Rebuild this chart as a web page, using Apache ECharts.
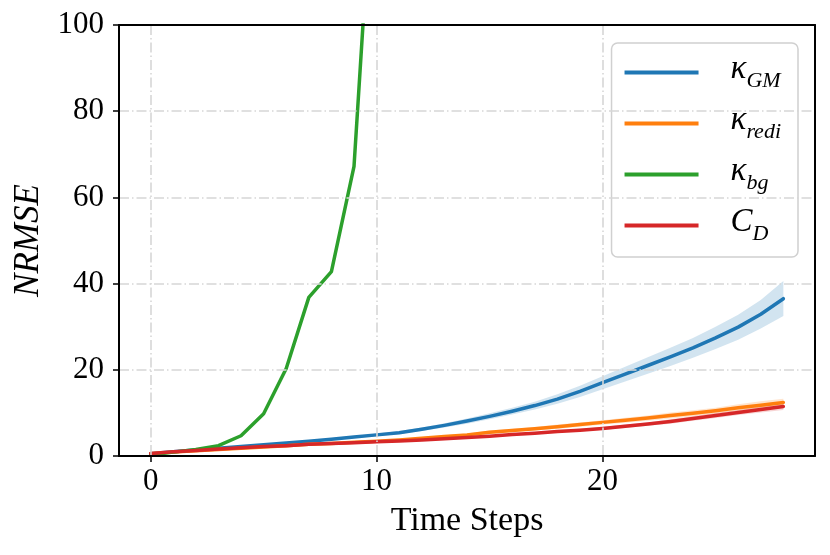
<!DOCTYPE html>
<html>
<head>
<meta charset="utf-8">
<script src="https://cdn.jsdelivr.net/npm/echarts@6/dist/echarts.min.js"></script>
<style>html,body{margin:0;padding:0;background:#fff}#c{width:830px;height:555px}</style>
</head>
<body>
<div id="c"></div>
<script>
const steps = [0,1,2,3,4,5,6,7,8,9,10,11,12,13,14,15,16,17,18,19,20,21,22,23,24,25,26,27,28];
const xTicks = [0,10,20];
const yTicks = [0,20,40,60,80,100];

const kGM   = [0.5,1.0,1.4,1.8,2.2,2.6,3.0,3.4,3.9,4.4,4.9,5.4,6.2,7.1,8.1,9.2,10.4,11.7,13.2,15.0,17.0,19.0,21.0,23.0,25.1,27.4,29.9,32.9,36.5];
const kGMLo = [0.4,0.9,1.3,1.7,2.1,2.5,2.9,3.3,3.7,4.2,4.6,5.1,5.8,6.6,7.5,8.5,9.6,10.8,12.1,13.7,15.5,17.3,19.1,20.9,22.8,24.8,27.0,29.6,32.5];
const kGMHi = [0.6,1.1,1.5,1.9,2.3,2.7,3.1,3.6,4.1,4.6,5.2,5.8,6.6,7.6,8.7,9.9,11.2,12.6,14.3,16.3,18.5,20.7,22.9,25.1,27.4,30.0,32.8,36.2,40.6];

const kRedi   = [0.5,0.9,1.2,1.5,1.8,2.1,2.4,2.7,2.9,3.2,3.4,3.7,4.1,4.5,4.9,5.5,5.9,6.3,6.8,7.3,7.8,8.3,8.8,9.4,9.9,10.5,11.2,11.8,12.4];
const kRediLo = [0.4,0.8,1.1,1.4,1.7,2.0,2.3,2.5,2.7,3.0,3.2,3.5,3.8,4.2,4.6,5.1,5.5,5.9,6.3,6.8,7.3,7.7,8.2,8.7,9.2,9.8,10.4,10.9,11.5];
const kRediHi = [0.6,1.0,1.3,1.6,1.9,2.2,2.5,2.9,3.1,3.4,3.6,3.9,4.4,4.8,5.2,5.9,6.3,6.7,7.3,7.8,8.3,8.9,9.4,10.1,10.6,11.2,12.0,12.7,13.3];

const bgSteps = [0,1,2,3,4,5,6,7,8,9,10];
const kBg     = [0.2,0.9,1.5,2.4,4.7,9.8,20.3,36.8,42.8,67.2,150];

const cD   = [0.6,1.0,1.3,1.6,1.9,2.2,2.4,2.7,2.9,3.1,3.3,3.5,3.7,4.0,4.3,4.6,5.0,5.3,5.7,6.0,6.4,6.9,7.4,8.0,8.7,9.4,10.1,10.8,11.5];
const cDLo = [0.5,0.9,1.2,1.5,1.8,2.1,2.3,2.6,2.8,3.0,3.2,3.4,3.6,3.9,4.1,4.4,4.8,5.1,5.4,5.7,6.1,6.5,7.0,7.5,8.2,8.8,9.5,10.1,10.7];
const cDHi = [0.7,1.1,1.4,1.7,2.0,2.3,2.5,2.8,3.0,3.2,3.4,3.6,3.8,4.1,4.5,4.8,5.2,5.5,6.0,6.3,6.7,7.3,7.8,8.5,9.2,10.0,10.7,11.5,12.3];

const names = ['κGM','κredi','κbg','CD'];
const legendRich = {'κGM':'{m|κ}{s|GM}','κredi':'{m|κ}{s|redi}','κbg':'{m|κ}{s|bg}','CD':'{m|C}{s|D}'};

const C = {blue:'#1f77b4', orange:'#ff7f0e', green:'#2ca02c', red:'#d62728'};
const FONT = 'Liberation Serif';

function pairs(xs, ys){ return xs.map((x,i)=>[x, ys[i]]); }
function band(id, lo, hi, color){
  const data = steps.map((x,i)=>[x, lo[i], hi[i]]);
  return {name:id, type:'custom', silent:true, z:1, data:data,
    encode:{x:0, y:[1,2]},
    renderItem:function(params, api){
      if (params.dataIndex !== 0) return null;
      const up = data.map(d=>api.coord([d[0], d[2]]));
      const dn = data.map(d=>api.coord([d[0], d[1]])).reverse();
      return {type:'polygon', shape:{points:up.concat(dn)}, style:{fill:color}};
    }
  };
}
function line(name, xs, ys, color, z){
  return {name:name, type:'line', data:pairs(xs, ys), symbol:'none', clip:true,
    lineStyle:{color:color, width:3.5, join:'round', cap:'round'}, itemStyle:{color:color}, z:z};
}

const gridLine = {show:true, lineStyle:{color:'#d6d6d6', width:1.6, type:[10,3,1.5,3]}};
const spine = {show:true, onZero:false, lineStyle:{color:'#000', width:2}};

const option = {
  animation:false,
  backgroundColor:'#fff',
  grid:{left:119, right:15, top:25, bottom:99, outerBoundsMode:'none', containLabel:false},
  xAxis:[{type:'value', min:-1.4, max:29.4, z:10,
    axisLine:spine,
    axisTick:{show:true, length:6, lineStyle:{color:'#000', width:1.5}, customValues:xTicks},
    axisLabel:{customValues:xTicks, color:'#000', fontFamily:FONT, fontSize:31, margin:10},
    splitLine:gridLine,
    name:'Time Steps', nameLocation:'middle', nameGap:48,
    nameTextStyle:{color:'#000', fontFamily:FONT, fontSize:34}
  },{type:'value', min:-1.4, max:29.4, position:'top', z:10,
    axisLine:spine, axisTick:{show:false}, axisLabel:{show:false}, splitLine:{show:false}}],
  yAxis:[{type:'value', min:0, max:100, interval:20, z:10,
    axisLine:spine,
    axisTick:{show:true, length:6, lineStyle:{color:'#000', width:1.5}},
    axisLabel:{color:'#000', fontFamily:FONT, fontSize:31, margin:15},
    splitLine:gridLine,
    name:'NRMSE', nameLocation:'middle', nameGap:72,
    nameTextStyle:{color:'#000', fontFamily:FONT, fontSize:35, fontStyle:'italic'}
  },{type:'value', min:0, max:100, interval:20, position:'right', z:10,
    axisLine:spine, axisTick:{show:false}, axisLabel:{show:false}, splitLine:{show:false}}],
  legend:{data:names, orient:'vertical', right:32, top:43,
    backgroundColor:'#fff', borderColor:'#d0d0d0', borderWidth:1.5, borderRadius:6,
    padding:[10,17,12,13], itemWidth:74, itemHeight:4, icon:'rect', itemGap:12,
    formatter:n=>legendRich[n],
    textStyle:{color:'#000', padding:[0,0,0,27], rich:{
      m:{fontFamily:FONT, fontSize:33, fontStyle:'italic', color:'#000', verticalAlign:'bottom', padding:[0,0,6,0]},
      s:{fontFamily:FONT, fontSize:22, fontStyle:'italic', color:'#000', verticalAlign:'bottom'}
    }}
  },
  series:[
    band('bGM', kGMLo, kGMHi, 'rgba(31,119,180,0.2)'),
    line('κGM', steps, kGM, C.blue, 3),
    band('bRedi', kRediLo, kRediHi, 'rgba(255,127,14,0.2)'),
    line('κredi', steps, kRedi, C.orange, 4),
    line('κbg', bgSteps, kBg, C.green, 5),
    band('bCD', cDLo, cDHi, 'rgba(214,39,40,0.2)'),
    line('CD', steps, cD, C.red, 6)
  ]
};
const chart = echarts.init(document.getElementById('c'), null, {renderer:'canvas'});
chart.setOption(option);
</script>
</body>
</html>
